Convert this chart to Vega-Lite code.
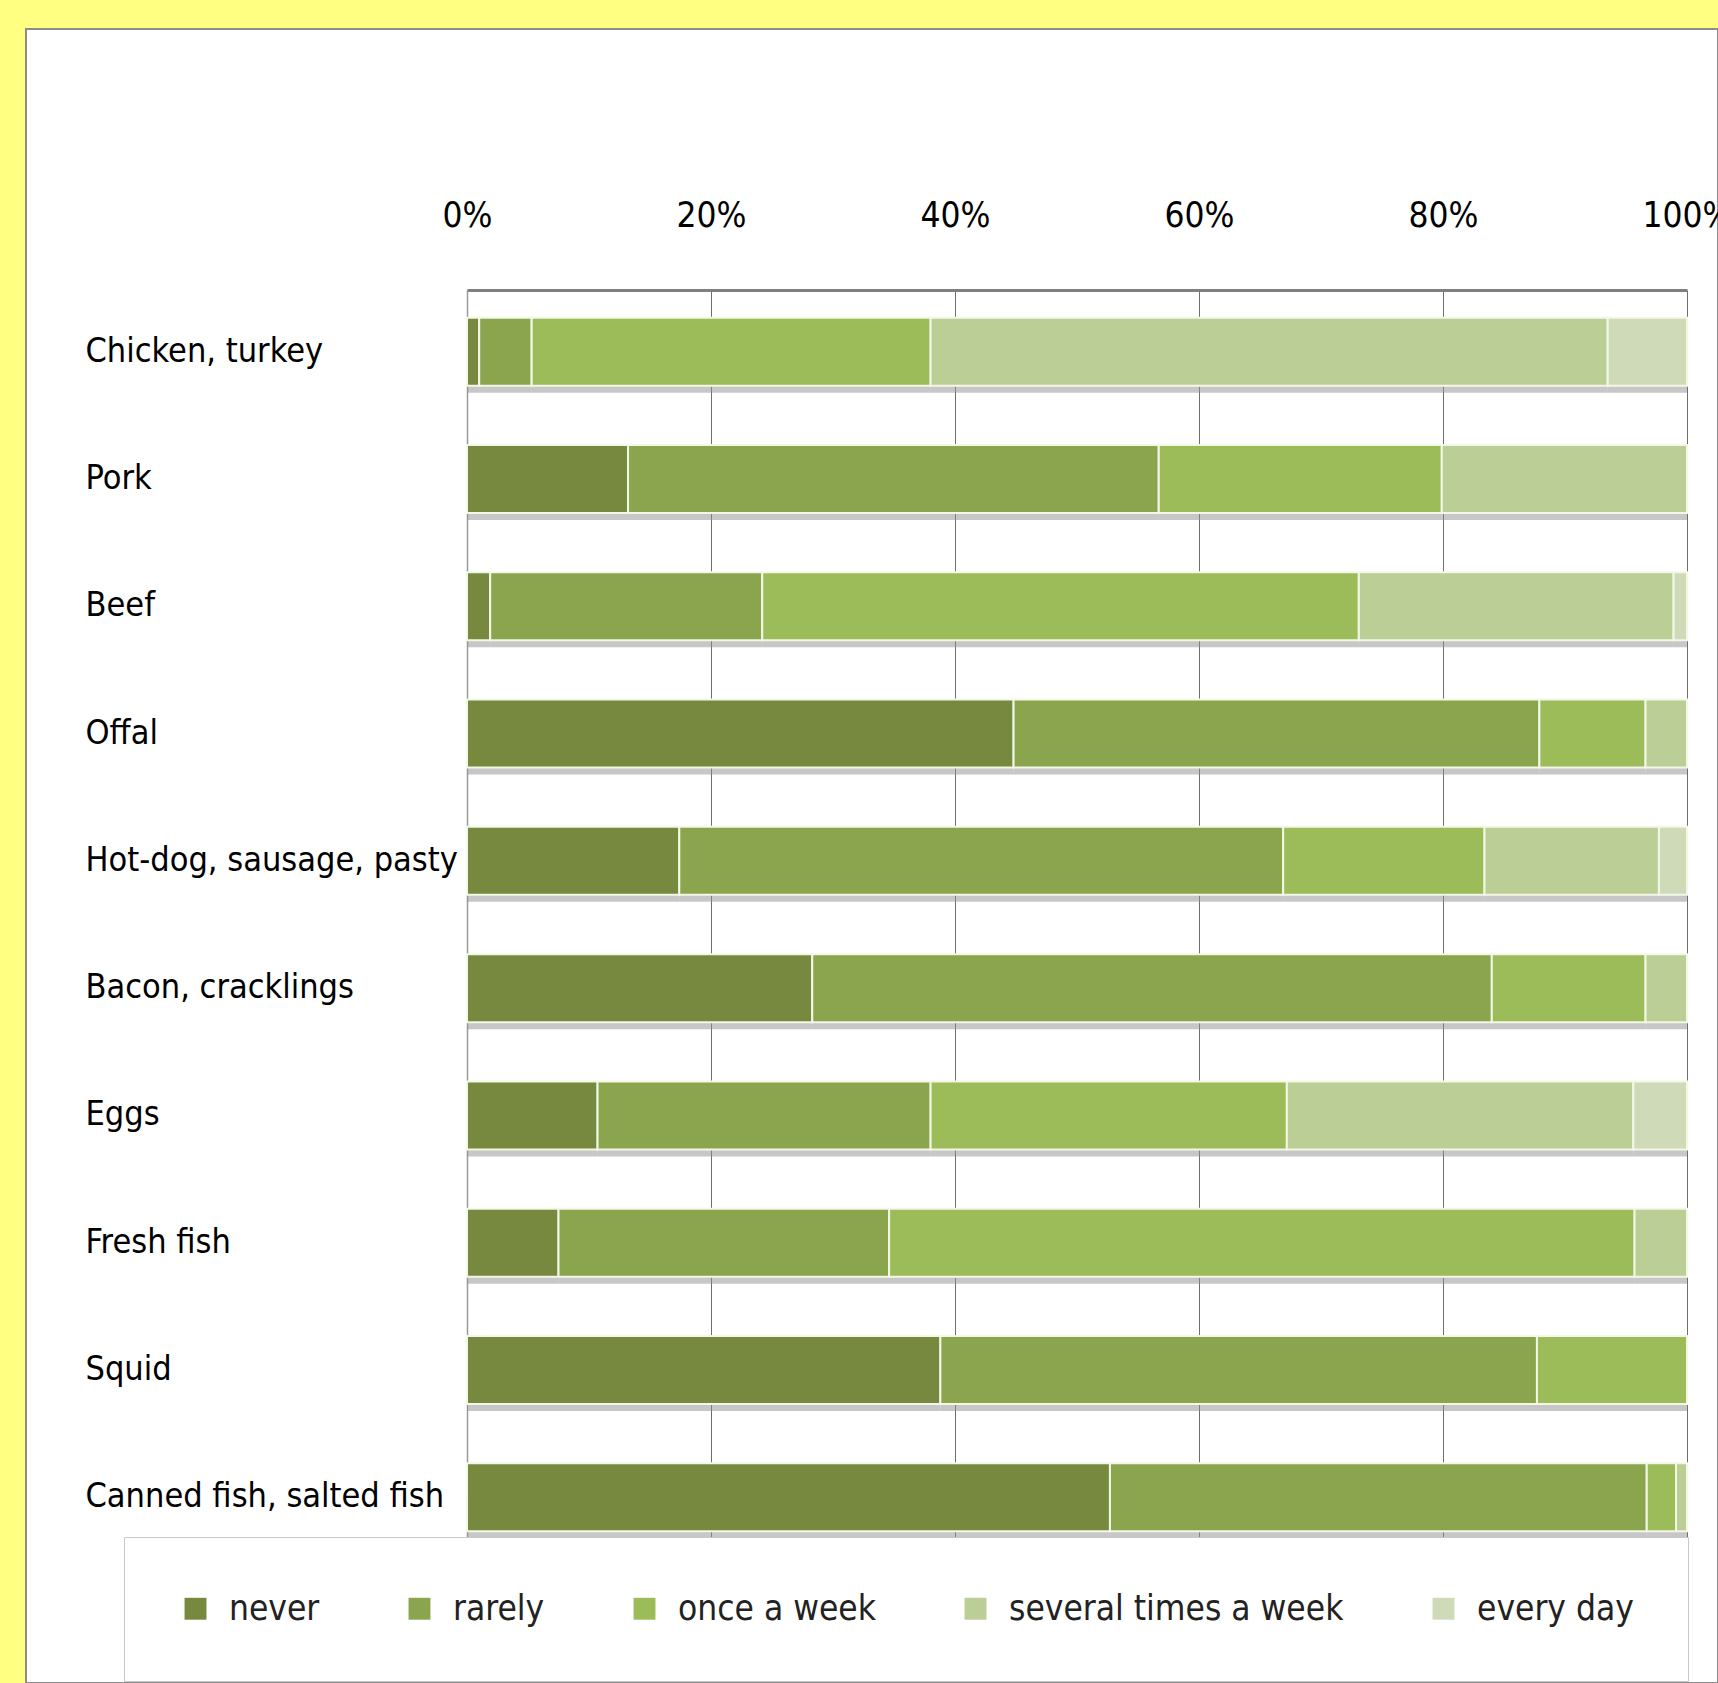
{
  "$schema": "https://vega.github.io/schema/vega-lite/v6.json",
  "width": 1692,
  "height": 1654,
  "autosize": {"type": "none"},
  "padding": {"left": 26, "top": 29, "right": 0, "bottom": 0},
  "background": "#FFFF82",
  "view": {"fill": "white", "stroke": "#8c8c8c", "strokeWidth": 2},
  "config": {"font": "Liberation Sans Narrow, DejaVu Sans Condensed, sans-serif"},
  "data": {
    "values": [
      {"food": "Chicken, turkey", "freq": "never", "k": 0, "value": 1.0},
      {"food": "Chicken, turkey", "freq": "rarely", "k": 1, "value": 4.3},
      {"food": "Chicken, turkey", "freq": "once a week", "k": 2, "value": 32.7},
      {"food": "Chicken, turkey", "freq": "several times a week", "k": 3, "value": 55.5},
      {"food": "Chicken, turkey", "freq": "every day", "k": 4, "value": 6.5},
      {"food": "Pork", "freq": "never", "k": 0, "value": 13.2},
      {"food": "Pork", "freq": "rarely", "k": 1, "value": 43.5},
      {"food": "Pork", "freq": "once a week", "k": 2, "value": 23.2},
      {"food": "Pork", "freq": "several times a week", "k": 3, "value": 20.1},
      {"food": "Beef", "freq": "never", "k": 0, "value": 1.9},
      {"food": "Beef", "freq": "rarely", "k": 1, "value": 22.3},
      {"food": "Beef", "freq": "once a week", "k": 2, "value": 48.9},
      {"food": "Beef", "freq": "several times a week", "k": 3, "value": 25.8},
      {"food": "Beef", "freq": "every day", "k": 4, "value": 1.1},
      {"food": "Offal", "freq": "never", "k": 0, "value": 44.8},
      {"food": "Offal", "freq": "rarely", "k": 1, "value": 43.1},
      {"food": "Offal", "freq": "once a week", "k": 2, "value": 8.7},
      {"food": "Offal", "freq": "several times a week", "k": 3, "value": 3.4},
      {"food": "Hot-dog, sausage, pasty", "freq": "never", "k": 0, "value": 17.4},
      {"food": "Hot-dog, sausage, pasty", "freq": "rarely", "k": 1, "value": 49.5},
      {"food": "Hot-dog, sausage, pasty", "freq": "once a week", "k": 2, "value": 16.5},
      {"food": "Hot-dog, sausage, pasty", "freq": "several times a week", "k": 3, "value": 14.3},
      {"food": "Hot-dog, sausage, pasty", "freq": "every day", "k": 4, "value": 2.3},
      {"food": "Bacon,  cracklings", "freq": "never", "k": 0, "value": 28.3},
      {"food": "Bacon,  cracklings", "freq": "rarely", "k": 1, "value": 55.7},
      {"food": "Bacon,  cracklings", "freq": "once a week", "k": 2, "value": 12.6},
      {"food": "Bacon,  cracklings", "freq": "several times a week", "k": 3, "value": 3.4},
      {"food": "Eggs", "freq": "never", "k": 0, "value": 10.7},
      {"food": "Eggs", "freq": "rarely", "k": 1, "value": 27.3},
      {"food": "Eggs", "freq": "once a week", "k": 2, "value": 29.2},
      {"food": "Eggs", "freq": "several times a week", "k": 3, "value": 28.4},
      {"food": "Eggs", "freq": "every day", "k": 4, "value": 4.4},
      {"food": "Fresh fish", "freq": "never", "k": 0, "value": 7.5},
      {"food": "Fresh fish", "freq": "rarely", "k": 1, "value": 27.1},
      {"food": "Fresh fish", "freq": "once a week", "k": 2, "value": 61.1},
      {"food": "Fresh fish", "freq": "several times a week", "k": 3, "value": 4.3},
      {"food": "Squid", "freq": "never", "k": 0, "value": 38.8},
      {"food": "Squid", "freq": "rarely", "k": 1, "value": 48.9},
      {"food": "Squid", "freq": "once a week", "k": 2, "value": 12.3},
      {"food": "Canned fish, salted fish", "freq": "never", "k": 0, "value": 52.7},
      {"food": "Canned fish, salted fish", "freq": "rarely", "k": 1, "value": 44.0},
      {"food": "Canned fish, salted fish", "freq": "once a week", "k": 2, "value": 2.4},
      {"food": "Canned fish, salted fish", "freq": "several times a week", "k": 3, "value": 0.9}
    ]
  },
  "encoding": {
    "y": {
      "field": "food",
      "type": "nominal",
      "sort": ["Chicken, turkey", "Pork", "Beef", "Offal", "Hot-dog, sausage, pasty", "Bacon,  cracklings", "Eggs", "Fresh fish", "Squid", "Canned fish, salted fish"],
      "scale": {"range": [261, 1530], "paddingInner": 0.466, "paddingOuter": 0.218},
      "axis": {
        "title": null,
        "orient": "left",
        "offset": -441,
        "domain": true,
        "domainColor": "#9a9a9a",
        "domainWidth": 1.5,
        "ticks": false,
        "tickSize": 0,
        "grid": false,
        "labelAlign": "left",
        "labelBaseline": "middle",
        "labelPadding": 382,
        "labelFontSize": 34,
        "labelColor": "#000000",
        "labelLimit": 600
      }
    },
    "x": {
      "field": "value",
      "type": "quantitative",
      "stack": "normalize",
      "scale": {"domain": [0, 1], "range": [441, 1661], "nice": false, "zero": false},
      "axis": {
        "title": null,
        "orient": "top",
        "offset": -261,
        "values": [0, 0.2, 0.4, 0.6, 0.8, 1],
        "format": ".0%",
        "domain": true,
        "domainColor": "#7f7f7f",
        "domainWidth": 3,
        "ticks": false,
        "tickSize": 0,
        "grid": true,
        "gridColor": "#6e6e6e",
        "gridWidth": 1,
        "gridOpacity": 1,
        "labelFontSize": 35,
        "labelColor": "#000000",
        "labelPadding": 64,
        "labelBaseline": "alphabetic",
        "labelFlush": false,
        "labelOverlap": false
      }
    },
    "order": {"field": "k", "type": "quantitative"}
  },
  "layer": [
    {
      "mark": {"type": "bar", "color": "#8f8f8f", "opacity": 0.5, "yOffset": 7}
    },
    {
      "mark": {"type": "bar", "stroke": "#F3F8E6", "strokeWidth": 2},
      "encoding": {
        "color": {
          "field": "freq",
          "type": "nominal",
          "scale": {
            "domain": ["never", "rarely", "once a week", "several times a week", "every day"],
            "range": ["#76893F", "#8AA54E", "#9CBB59", "#BBCE95", "#CFDBB8"]
          },
          "legend": {
            "title": null,
            "orient": "none",
            "legendX": 98,
            "legendY": 1508,
            "direction": "horizontal",
            "columns": 5,
            "columnPadding": 82,
            "padding": 54,
            "fillColor": "white",
            "strokeColor": "#c8c8c8",
            "symbolType": "square",
            "symbolSize": 480,
            "symbolStrokeWidth": 0,
            "labelFontSize": 35,
            "labelColor": "#222222",
            "labelOffset": 16,
            "labelLimit": 600
          }
        }
      }
    }
  ]
}
